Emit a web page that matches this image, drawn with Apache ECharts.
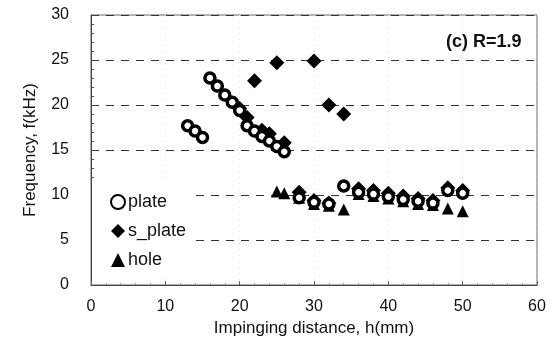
<!DOCTYPE html>
<html><head><meta charset="utf-8">
<script src="https://cdn.jsdelivr.net/npm/echarts@6/dist/echarts.min.js"></script>
<style>html,body{margin:0;padding:0;background:#fff}#c{width:558px;height:352px}</style>
</head><body><div id="c"></div>
<script>
const xTicks = [0, 10, 20, 30, 40, 50, 60];
const yTicks = [0, 5, 10, 15, 20, 25, 30];
const plateH = [13, 14, 15, 16, 17, 18, 19, 20, 21, 22, 23, 24, 25, 26, 34, 28, 30, 32, 36, 38, 40, 42, 44, 46, 48, 50];
const plateF = [17.7, 17.1, 16.4, 23.0, 22.1, 21.1, 20.3, 19.4, 17.7, 17.1, 16.5, 16.0, 15.4, 14.8, 11.0, 9.7, 9.2, 9.0, 10.3, 10.1, 9.8, 9.5, 9.3, 9.1, 10.5, 10.2];
const splateH = [20, 21, 22, 23, 24, 26, 25, 30, 32, 34, 28, 30, 32, 36, 38, 40, 42, 44, 46, 48, 50];
const splateF = [19.6, 18.6, 22.7, 17.2, 16.8, 15.8, 24.7, 24.9, 20.0, 19.0, 10.3, 9.4, 9.1, 10.7, 10.5, 10.2, 9.9, 9.6, 9.4, 10.8, 10.5];
const holeH = [25, 26, 28, 30, 32, 34, 36, 38, 40, 42, 44, 46, 48, 50];
const holeF = [10.4, 10.2, 9.7, 9.0, 8.8, 8.4, 10.1, 9.9, 9.6, 9.3, 9.0, 8.9, 8.5, 8.2];
const seriesNames = ['plate', 's_plate', 'hole'];
const annotation = '(c) R=1.9';

const pairs = (h, f) => h.map((v, i) => [v, f[i]]);
const font = '"Liberation Sans", Arial, sans-serif';
const chart = echarts.init(document.getElementById('c'));
chart.setOption({
  animation: false,
  backgroundColor: '#fff',
  grid: { left: 91, right: 21, top: 15, bottom: 67, show: true, borderColor: '#666', borderWidth: 1, backgroundColor: 'transparent' },
  xAxis: {
    type: 'value', min: xTicks[0], max: xTicks[xTicks.length - 1], interval: 10,
    name: 'Impinging distance, h(mm)', nameLocation: 'middle', nameGap: 35,
    nameTextStyle: { fontFamily: font, fontSize: 17, color: '#111' },
    axisLine: { show: true, lineStyle: { color: '#444', width: 1 } },
    axisTick: { show: true, inside: true, length: 4, lineStyle: { color: '#666' } },
    minorTick: { show: true, splitNumber: 5, length: 2, lineStyle: { color: '#999' } },
    axisLabel: { fontFamily: font, fontSize: 16, color: '#111', margin: 14 },
    splitLine: { show: true, lineStyle: { color: '#ddd', type: [1, 5], width: 1 } }
  },
  yAxis: {
    type: 'value', min: yTicks[0], max: yTicks[yTicks.length - 1], interval: 5,
    name: 'Frequency, f(kHz)', nameLocation: 'middle', nameGap: 52,
    nameTextStyle: { fontFamily: font, fontSize: 17, color: '#111' },
    axisLine: { show: true, lineStyle: { color: '#444', width: 1 } },
    axisTick: { show: true, inside: true, length: 6, lineStyle: { color: '#444' } },
    minorTick: { show: true, splitNumber: 5, length: 3, lineStyle: { color: '#555' } },
    axisLabel: { fontFamily: font, fontSize: 16, color: '#111', margin: 22 },
    splitLine: { show: true, lineStyle: { color: '#333', type: [8, 7], width: 1 } }
  },
  legend: {
    data: seriesNames, orient: 'vertical', left: 92, top: 183,
    padding: [10, 8, 10, 18], itemGap: 11, itemWidth: 14, itemHeight: 14,
    backgroundColor: '#fff',
    textStyle: { fontFamily: font, fontSize: 18, color: '#111', padding: [0, 0, 0, -2] }
  },
  graphic: [{
    type: 'text', left: 446, top: 33,
    style: { text: annotation, fontFamily: font, fontSize: 18, fontWeight: 'bold', fill: '#111' }
  }],
  series: [
    { name: 'plate', type: 'scatter', z: 5, symbol: 'circle', symbolSize: 10,
      itemStyle: { color: '#fff', borderColor: '#000', borderWidth: 3.5, opacity: 1 },
      data: pairs(plateH, plateF) },
    { name: 's_plate', type: 'scatter', z: 3, symbol: 'diamond', symbolSize: 15,
      itemStyle: { color: '#000', opacity: 1 }, data: pairs(splateH, splateF) },
    { name: 'hole', type: 'scatter', z: 4, symbol: 'triangle', symbolSize: 12,
      itemStyle: { color: '#000', opacity: 1 }, data: pairs(holeH, holeF) }
  ]
});
</script></body></html>
